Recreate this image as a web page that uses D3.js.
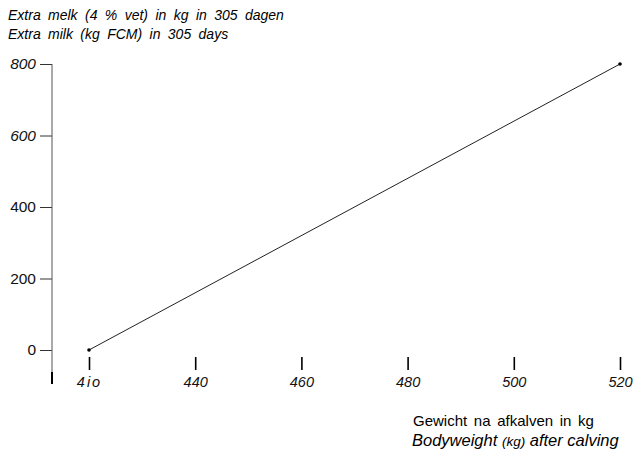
<!DOCTYPE html>
<html>
<head>
<meta charset="utf-8">
<script src="https://cdn.jsdelivr.net/npm/d3@7"></script>
<style>
  body { margin: 0; background: #fff; }
  svg { font-family: "Liberation Sans", Arial, sans-serif; }
</style>
</head>
<body>
<svg></svg>
<script>
// extra milk against bodyweight after calving

var width = 634;
var height = 456;

var weights = [420, 520];
var extraMilk = [0, 800];
var xTicks = [420, 440, 460, 480, 500, 520];
var xTickLabels = ["4io", "440", "460", "480", "500", "520"];
var yTicks = [0, 200, 400, 600, 800];
var yItalic = [800, 600];

var data = weights.map((w, i) => ({x: w, y: extraMilk[i]}));

var xScale = d3.scaleLinear()
                  .domain([420, 520])
                  .range([89, 620]);

var yScale = d3.scaleLinear()
                  .domain([0, 800])
                  .range([350, 64]);

var svg = d3.select('svg')
              .attr('width', width)
              .attr('height', height);

// y axis
var yAxis = svg.append("g")
    .attr("transform", "translate(52,0)")
    .call(d3.axisLeft(yScale).tickValues(yTicks).tickSize(12).tickPadding(4).tickSizeOuter(0));

yAxis.select(".domain").remove();
yAxis.selectAll("line").attr("stroke", "#333").attr("stroke-width", 1);
yAxis.selectAll("text")
    .attr("font-size", 15.5)
    .attr("fill", "#111")
    .attr("font-style", d => yItalic.includes(d) ? "italic" : "normal");

svg.append("line")
    .attr("x1", 52).attr("x2", 52)
    .attr("y1", yScale(800)).attr("y2", 372)
    .attr("stroke", "#555").attr("stroke-width", 1);
svg.append("line")
    .attr("x1", 52).attr("x2", 52)
    .attr("y1", 372).attr("y2", 384)
    .attr("stroke", "#000").attr("stroke-width", 2);

// x axis, ticks only
var xAxis = svg.append("g")
    .attr("transform", "translate(0,357)")
    .call(d3.axisBottom(xScale).tickValues(xTicks)
        .tickFormat((d, i) => xTickLabels[i]).tickSize(13).tickPadding(7));

xAxis.select(".domain").remove();
xAxis.selectAll("line").attr("stroke", "#000").attr("stroke-width", 1.6);
xAxis.selectAll("text")
    .attr("font-size", 14.5)
    .attr("fill", "#111")
    .attr("font-style", "italic")
    .attr("letter-spacing", (d, i) => i === 0 ? 2 : 0);

// line
var line = d3.line()
    .x(d => xScale(d.x))
    .y(d => yScale(d.y));

svg.append("path")
    .datum(data)
    .attr("d", line)
    .attr("fill", "none")
    .attr("stroke", "#222")
    .attr("stroke-width", 1);

svg.selectAll("circle")
    .data(data)
    .enter()
    .append("circle")
      .attr("cx", d => xScale(d.x))
      .attr("cy", d => yScale(d.y))
      .attr("r", 1.8)
      .attr("fill", "#000");

// titles
svg.append("text")
    .attr("x", 8)
    .attr("y", 20)
    .attr("font-size", 14)
    .attr("font-style", "italic")
    .attr("word-spacing", 3.5)
    .text("Extra melk (4 % vet) in kg in 305 dagen");

svg.append("text")
    .attr("x", 8)
    .attr("y", 39)
    .attr("font-size", 14)
    .attr("font-style", "italic")
    .attr("word-spacing", 3.5)
    .text("Extra milk (kg FCM) in 305 days");

svg.append("text")
    .attr("x", 413)
    .attr("y", 426)
    .attr("font-size", 15)
    .attr("word-spacing", 2.5)
    .text("Gewicht na afkalven in kg");

var bw = svg.append("text")
    .attr("x", 412)
    .attr("y", 446)
    .attr("font-size", 16.5)
    .attr("font-style", "italic");
bw.append("tspan").text("Bodyweight ");
bw.append("tspan").attr("font-size", 13.5).text("(kg)");
bw.append("tspan").text(" after calving");
</script>
</body>
</html>
